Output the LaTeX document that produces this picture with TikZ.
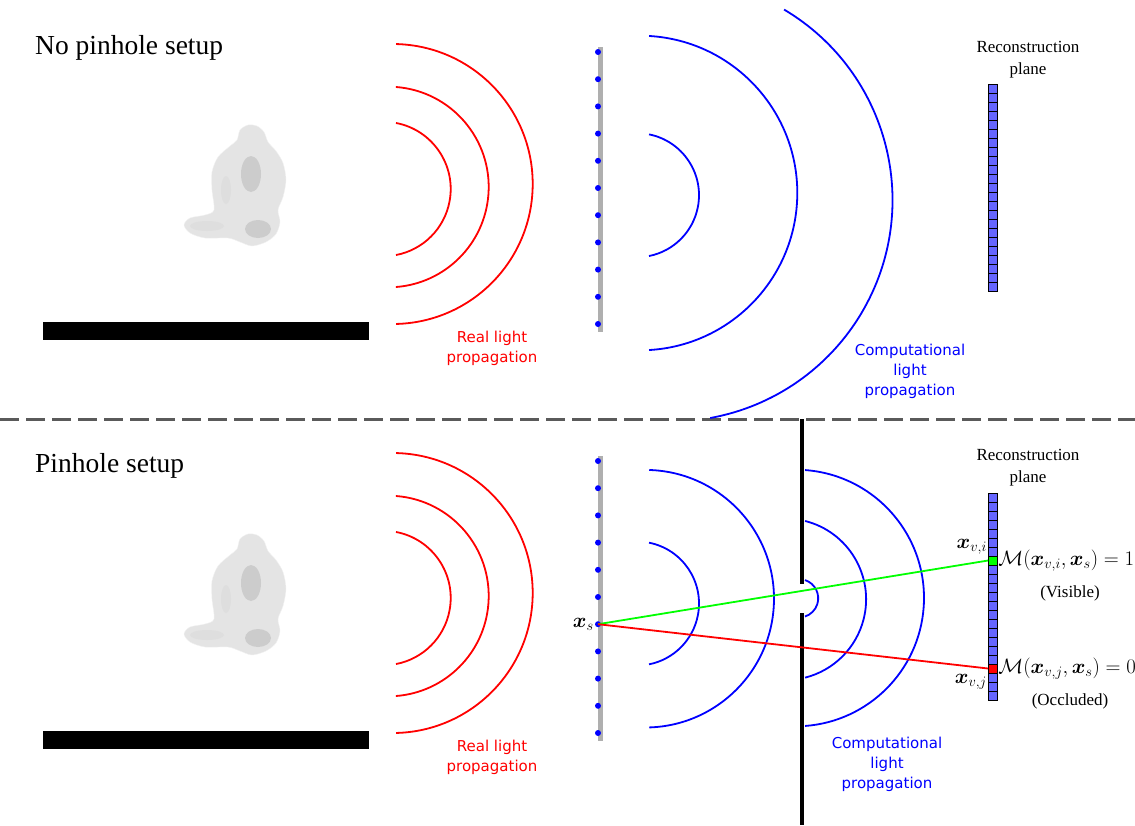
\documentclass[tikz,border=0pt]{standalone}
\usepackage{amsmath}
\usepackage{fontspec}
\setmainfont{Liberation Serif}
\newfontfamily\labelfont{DejaVu Sans}
\usetikzlibrary{positioning}
\definecolor{pixelblue}{RGB}{102,102,255}
\definecolor{dividergray}{RGB}{90,90,90}
\definecolor{sensorgray}{RGB}{175,175,175}
\definecolor{statuebody}{RGB}{228,228,228}
\definecolor{statueshade}{RGB}{204,204,204}

\begin{document}
\begin{tikzpicture}[
    x=1pt, y=-1pt,
    realwave/.style={red, line width=1.8},
    compwave/.style={blue, line width=1.8},
    sensorbar/.style={sensorgray, line width=5},
    wall/.style={black, line width=4},
    pixel/.style={rectangle, draw=black, line width=0.8, fill=pixelblue, minimum size=9, inner sep=0},
    setuptitle/.style={font=\fontsize{27.5}{32}\selectfont, anchor=base west, inner sep=0},
    planelabel/.style={font=\fontsize{17}{22}\selectfont, align=center},
    reallabel/.style={text=red, font=\labelfont\fontsize{15}{20}\selectfont, align=center},
    complabel/.style={text=blue, font=\labelfont\fontsize{15}{20}\selectfont, align=center},
    mathlabel/.style={font=\fontsize{19.2}{24}\selectfont, inner sep=1},
    notelabel/.style={font=\fontsize{17}{20}\selectfont}
]
    \useasboundingbox (0,0) rectangle (1135,825);

    % Panel titles
    \node[setuptitle] (toptitle) at (35,54) {No pinhole setup};
    \node[setuptitle] (bottitle) at (35,472) {Pinhole setup};

    % Divider between the two setups
    \draw[dividergray, line width=3, dash pattern=on 19pt off 7pt] (0,419) -- (1135,419);

    % Statue and floor, both panels
    \foreach \oy in {0,409} {
        \begin{scope}[shift={(0,\oy)}]
            \fill[black] (43,322) rectangle (369,340);
            \fill[statuebody, draw=black!5] plot[smooth cycle] coordinates {
                (240,130) (248,125) (257,126) (264,132) (268,142) (276,151) (283,163)
                (286,180) (283,197) (278,210) (280,222) (276,234) (266,242) (252,246)
                (240,242) (228,238) (205,238) (190,233) (184,225) (190,218) (205,215)
                (214,210) (212,190) (212,172) (218,157) (230,146) (237,140)};
            \fill[statueshade] (251,174) ellipse[x radius=10, y radius=18];
            \fill[statueshade] (258,229) ellipse[x radius=13, y radius=9];
            \fill[black!13] (207,226) ellipse[x radius=17, y radius=5];
            \fill[black!13] (226,190) ellipse[x radius=5, y radius=14];
        \end{scope}
    }

    % Real light propagation, both panels
    \foreach \oy in {0,409} {
        \begin{scope}[shift={(0,\oy)}]
            \draw[realwave] (383.5,189) ++(-79.3:67.2) arc[start angle=-79.3, end angle=79.3, radius=67.2];
            \draw[realwave] (388.4,187) ++(-85.7:100.3) arc[start angle=-85.7, end angle=85.7, radius=100.3];
            \draw[realwave] (392.7,184) ++(-88.6:140) arc[start angle=-88.6, end angle=88.6, radius=140];
            % sensor line with its samples
            \draw[sensorbar] (600,47) -- (600,332);
            \foreach \k in {0,...,10}
                \fill[blue] (598,{52+27.2*\k}) circle[radius=3];
        \end{scope}
    }
    \node[reallabel] (topreal) at (492,348) {Real light\\propagation};
    \node[reallabel] (botreal) at (492,757) {Real light\\propagation};

    % Computational propagation, no pinhole
    \draw[compwave] (637,195.2) ++(-78.8:62) arc[start angle=-78.8, end angle=78.8, radius=62];
    \draw[compwave] (640,193) ++(-86.7:157.3) arc[start angle=-86.7, end angle=86.7, radius=157.3];
    \draw[compwave] (671,200) ++(-59.3:221.5) arc[start angle=-59.3, end angle=79.8, radius=221.5];
    \node[complabel] (topcomp) at (910,371) {Computational\\light\\propagation};

    % Computational propagation through the pinhole
    \draw[compwave] (637,603.5) ++(-78.8:62) arc[start angle=-78.8, end angle=78.8, radius=62];
    \draw[compwave] (645.2,598.7) ++(-88.2:128.8) arc[start angle=-88.2, end angle=88.2, radius=128.8];
    \draw[compwave] (799,598.3) ++(-71.8:19.2) arc[start angle=-71.8, end angle=71.8, radius=19.2];
    \draw[compwave] (785.3,599.3) ++(-75.8:80.8) arc[start angle=-75.8, end angle=75.8, radius=80.8];
    \draw[compwave] (795.7,598) ++(-85.8:128.3) arc[start angle=-85.8, end angle=85.8, radius=128.3];
    \node[complabel] (botcomp) at (887,764) {Computational\\light\\propagation};

    % Pinhole wall
    \draw[wall] (802,419) -- (802,584);
    \draw[wall] (802,613) -- (802,825);

    % Reconstruction planes
    \foreach \i in {0,...,22} {
        \node[pixel] (top-\i) at (993,{88.8+9*\i}) {};
        \node[pixel] (bot-\i) at (993,{497.5+9*\i}) {};
    }
    \node[planelabel] (topplane) at (1028,60) {Reconstruction\\plane};
    \node[planelabel] (botplane) at (1028,468) {Reconstruction\\plane};

    % Visibility rays from one sensor sample
    \coordinate (xs) at (598,624.2);
    \node[pixel, fill=green] (vi) at (bot-7) {};
    \node[pixel, fill=red] (vj) at (bot-19) {};
    \draw[green, line width=1.8] (xs) -- (vi.west);
    \draw[red, line width=1.8] (xs) -- (vj.west);

    \node[mathlabel, left=3pt of xs] (xslabel) {$\boldsymbol{x}_s$};
    \node[mathlabel, anchor=south east] (vilabel) at (vi.north west) {$\boldsymbol{x}_{v,i}$};
    \node[mathlabel, anchor=north east] (vjlabel) at (vj.south west) {$\boldsymbol{x}_{v,j}$};
    \node[mathlabel, anchor=west, inner sep=0.3] (mvis) at (vi.east) {$\mathcal{M}(\boldsymbol{x}_{v,i},\boldsymbol{x}_s)=1$};
    \node[mathlabel, anchor=west, inner sep=0.3] (mocc) at (vj.east) {$\mathcal{M}(\boldsymbol{x}_{v,j},\boldsymbol{x}_s)=0$};
    \node[notelabel] (visible) at (1070,593) {(Visible)};
    \node[notelabel] (occluded) at (1070,701) {(Occluded)};
\end{tikzpicture}
\end{document}
